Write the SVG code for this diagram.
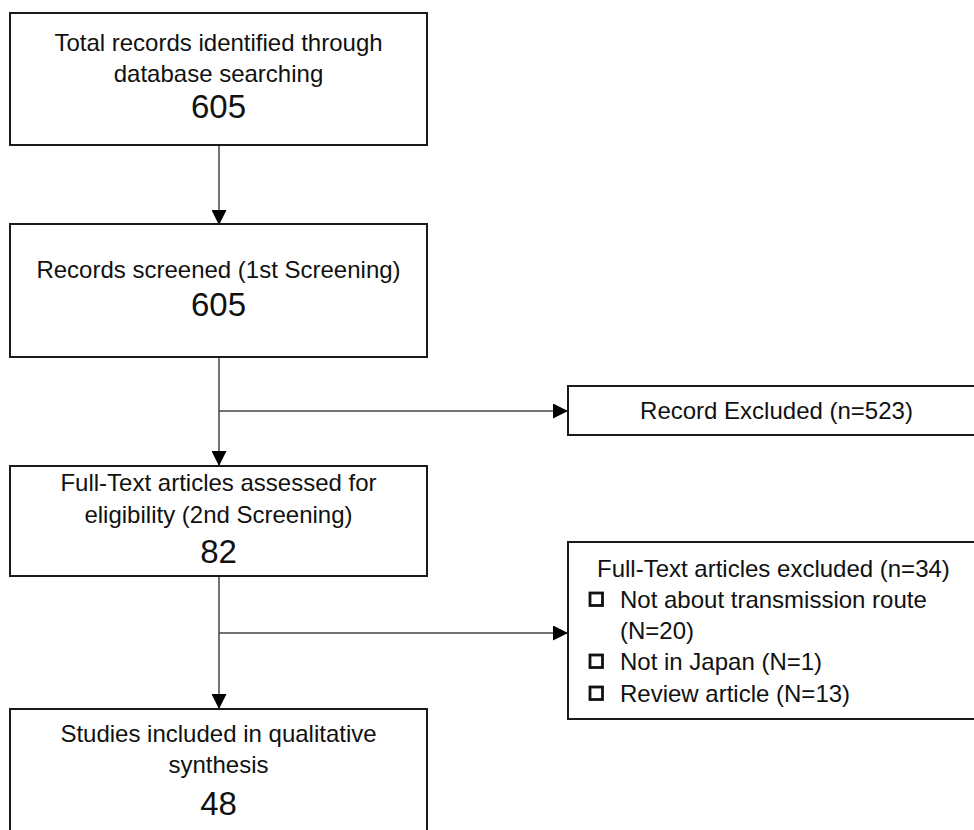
<svg xmlns="http://www.w3.org/2000/svg" width="974" height="830" viewBox="0 0 974 830">
<style>
.box{fill:#fff;stroke:#1a1a1a;stroke-width:2}
.t{font-family:"Liberation Sans",Arial,sans-serif;font-size:24px;fill:#111}
.c{text-anchor:middle}
.n{font-family:"Liberation Sans",Arial,sans-serif;font-size:33px;fill:#111;text-anchor:middle}
.ln{stroke:#444;stroke-width:1.5;fill:none}
.chk{fill:none;stroke:#111;stroke-width:2.8}
</style>
<defs>
<marker id="ah" markerWidth="15" markerHeight="15" viewBox="0 0 15 15" refX="14" refY="7.5" orient="auto" markerUnits="userSpaceOnUse">
<path d="M0,0 L15,7.5 L0,15 Z" fill="#000"/>
</marker>
</defs>
<g id="connectors">
<line class="ln" x1="219" y1="145" x2="219" y2="224" marker-end="url(#ah)"/>
<line class="ln" x1="219" y1="357" x2="219" y2="465" marker-end="url(#ah)"/>
<line class="ln" x1="219" y1="411" x2="567" y2="411" marker-end="url(#ah)"/>
<line class="ln" x1="219" y1="576" x2="219" y2="708" marker-end="url(#ah)"/>
<line class="ln" x1="219" y1="633" x2="567" y2="633" marker-end="url(#ah)"/>
</g>
<g id="n1">
<rect class="box" x="10" y="13" width="417" height="132"/>
<text class="t c" x="218.5" y="51">Total records identified through</text>
<text class="t c" x="218.5" y="82">database searching</text>
<text class="n" x="218.5" y="118">605</text>
</g>
<g id="n2">
<rect class="box" x="10" y="224" width="417" height="133"/>
<text class="t c" x="218.5" y="278">Records screened (1st Screening)</text>
<text class="n" x="218.5" y="316">605</text>
</g>
<g id="n3">
<rect class="box" x="568" y="386" width="420" height="49"/>
<text class="t c" x="776.5" y="419">Record Excluded (n=523)</text>
</g>
<g id="n4">
<rect class="box" x="10" y="466" width="417" height="110"/>
<text class="t c" x="218.5" y="491">Full-Text articles assessed for</text>
<text class="t c" x="218.5" y="523">eligibility (2nd Screening)</text>
<text class="n" x="218.5" y="563">82</text>
</g>
<g id="n5">
<rect class="box" x="568" y="542" width="420" height="177"/>
<text class="t" x="597" y="577">Full-Text articles excluded (n=34)</text>
<rect class="chk" x="590" y="593" width="12.5" height="12.5"/>
<text class="t" x="620" y="608">Not about transmission route</text>
<text class="t" x="620" y="639">(N=20)</text>
<rect class="chk" x="590" y="655" width="12.5" height="12.5"/>
<text class="t" x="620" y="670">Not in Japan (N=1)</text>
<rect class="chk" x="590" y="687" width="12.5" height="12.5"/>
<text class="t" x="620" y="702">Review article (N=13)</text>
</g>
<g id="n6">
<rect class="box" x="10" y="709" width="417" height="140"/>
<text class="t c" x="218.5" y="742">Studies included in qualitative</text>
<text class="t c" x="218.5" y="773">synthesis</text>
<text class="n" x="218.5" y="815">48</text>
</g>
</svg>
